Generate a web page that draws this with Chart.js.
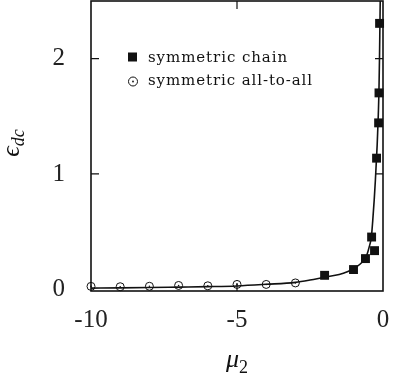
<!DOCTYPE html>
<html>
<head>
<meta charset="utf-8">
<script src="https://cdn.jsdelivr.net/npm/chart.js@4.4.1/dist/chart.umd.min.js"></script>
<style>
  html, body { margin: 0; padding: 0; background: #fff; }
  #wrap { width: 395px; height: 377px; }
</style>
</head>
<body>
<div id="wrap"><canvas id="chart" width="395" height="377"></canvas></div>
<script>
// tick labels
const xTicks = [-10, -5, 0];
const yTicks = [0, 1, 2];

// symmetric chain (filled squares)
const chainX = [-0.117, -0.137, -0.15, -0.22, -0.39, -0.29, -0.6, -1.01, -2.0];
const chainY = [2.306, 1.703, 1.443, 1.137, 0.453, 0.335, 0.266, 0.171, 0.121];

// symmetric all-to-all (dotted circles)
const allX = [-10, -9, -8, -7, -6, -5, -4, -3];
const allY = [0.025, 0.022, 0.026, 0.033, 0.03, 0.042, 0.042, 0.055];

// solid curve
const curveX = [-10, -9, -8, -7, -6, -5, -4, -3, -2.5, -2, -1.5, -1.2, -1, -0.8, -0.65, -0.55, -0.47, -0.4, -0.35, -0.3, -0.26, -0.23, -0.2, -0.18, -0.16, -0.14, -0.12, -0.105, -0.095, -0.085];
const curveY = [0.010, 0.012, 0.015, 0.019, 0.023, 0.029, 0.043, 0.06, 0.08, 0.105, 0.128, 0.155, 0.18, 0.215, 0.255, 0.3, 0.37, 0.45, 0.6, 0.78, 0.95, 1.1, 1.25, 1.38, 1.52, 1.7, 2.0, 2.3, 2.5, 2.8];

const legendLabels = ['symmetric chain', 'symmetric all-to-all'];

const pts = (xs, ys) => xs.map((x, i) => ({ x: x, y: ys[i] }));
const serif = '"Liberation Serif", "DejaVu Serif", serif';

// frame + inward ticks, drawn under the marks
const framePlugin = {
  id: 'frame',
  beforeDatasetsDraw(chart) {
    const { ctx, chartArea: a, scales } = chart;
    ctx.save();
    ctx.strokeStyle = '#111';
    ctx.lineWidth = 1.6;
    ctx.strokeRect(a.left, a.top, a.right - a.left, a.bottom - a.top);
    ctx.lineWidth = 1.2;
    const len = 8;
    yTicks.forEach(v => {
      if (v === 0) return;
      const y = scales.y.getPixelForValue(v);
      ctx.beginPath();
      ctx.moveTo(a.left, y); ctx.lineTo(a.left + len, y);
      ctx.moveTo(a.right, y); ctx.lineTo(a.right - len, y);
      ctx.stroke();
    });
    xTicks.forEach(v => {
      if (v === -10 || v === 0) return;
      const x = scales.x.getPixelForValue(v);
      ctx.beginPath();
      ctx.moveTo(x, a.bottom); ctx.lineTo(x, a.bottom - len);
      ctx.moveTo(x, a.top); ctx.lineTo(x, a.top + len);
      ctx.stroke();
    });
    ctx.restore();
  }
};

// legend text, stretched to the width it has in the picture
function wideText(ctx, txt, x, y, width) {
  ctx.letterSpacing = '0px';
  const w = ctx.measureText(txt).width;
  ctx.letterSpacing = ((width - w) / txt.length) + 'px';
  ctx.fillText(txt, x, y);
  ctx.letterSpacing = '0px';
}

// legend inside the box and axis titles with subscripts
const textPlugin = {
  id: 'texts',
  afterDraw(chart) {
    const { ctx } = chart;
    ctx.save();
    ctx.fillStyle = '#111';
    ctx.strokeStyle = '#111';

    // legend
    ctx.font = '15px "DejaVu Serif", serif';
    ctx.textBaseline = 'middle';
    ctx.textAlign = 'left';
    ctx.fillRect(128, 52.5, 9, 9);
    wideText(ctx, legendLabels[0], 148, 58, 140);
    ctx.lineWidth = 1;
    ctx.beginPath();
    ctx.arc(133, 81.5, 4.5, 0, Math.PI * 2);
    ctx.stroke();
    ctx.beginPath();
    ctx.arc(133, 81.5, 0.9, 0, Math.PI * 2);
    ctx.fill();
    wideText(ctx, legendLabels[1], 148, 81, 165);

    // x title: mu_2
    ctx.textBaseline = 'alphabetic';
    ctx.font = 'italic 26px ' + serif;
    const muW = ctx.measureText('μ').width;
    ctx.font = '18px ' + serif;
    const twoW = ctx.measureText('2').width;
    let x0 = 237 - (muW + twoW) / 2;
    ctx.font = 'italic 26px ' + serif;
    ctx.fillText('μ', x0, 367);
    ctx.font = '18px ' + serif;
    ctx.fillText('2', x0 + muW, 373);

    // y title: eps_dc (rotated)
    ctx.translate(19, 143);
    ctx.rotate(-Math.PI / 2);
    ctx.font = 'italic 26px ' + serif;
    const eW = ctx.measureText('ϵ').width;
    ctx.font = 'italic 18px ' + serif;
    const dcW = ctx.measureText('dc').width;
    x0 = -(eW + dcW) / 2;
    ctx.font = 'italic 26px ' + serif;
    ctx.fillText('ϵ', x0, 0);
    ctx.font = 'italic 18px ' + serif;
    ctx.fillText('dc', x0 + eW, 5);
    ctx.restore();
  }
};

const noPad = s => {
  s.paddingTop = 0; s.paddingBottom = 0; s.paddingLeft = 0; s.paddingRight = 0;
};

new Chart(document.getElementById('chart'), {
  type: 'scatter',
  data: {
    datasets: [
      {
        type: 'line',
        data: pts(curveX, curveY),
        borderColor: '#111',
        borderWidth: 1.6,
        pointRadius: 0,
        fill: false,
        cubicInterpolationMode: 'monotone'
      },
      {
        data: pts(chainX, chainY),
        pointStyle: 'rect',
        pointRadius: 6.3,
        backgroundColor: '#111',
        borderColor: '#111',
        borderWidth: 0,
        clip: false
      },
      {
        data: pts(allX, allY),
        pointStyle: 'circle',
        pointRadius: 4,
        backgroundColor: 'rgba(0,0,0,0)',
        borderColor: '#111',
        borderWidth: 1,
        clip: false
      },
      {
        data: pts(allX, allY),
        pointStyle: 'circle',
        pointRadius: 0.8,
        backgroundColor: '#111',
        borderWidth: 0,
        clip: false
      }
    ]
  },
  options: {
    responsive: false,
    animation: false,
    layout: { autoPadding: false, padding: { top: 1, right: 12, left: 0, bottom: 0 } },
    plugins: { legend: { display: false }, tooltip: { enabled: false } },
    scales: {
      x: {
        type: 'linear',
        min: -10,
        max: 0,
        grid: { display: false },
        border: { display: false },
        afterBuildTicks: s => { s.ticks = xTicks.map(v => ({ value: v })); },
        afterFit: s => { s.height = 86; noPad(s); },
        ticks: {
          color: '#222',
          padding: 6,
          font: { family: serif, size: 25 },
          callback: v => String(v)
        }
      },
      y: {
        type: 'linear',
        min: -0.015,
        max: 2.5,
        grid: { display: false },
        border: { display: false },
        afterBuildTicks: s => { s.ticks = yTicks.map(v => ({ value: v })); },
        afterFit: s => { s.width = 91; noPad(s); },
        ticks: {
          color: '#222',
          padding: 18,
          font: { family: serif, size: 25 },
          callback: v => String(v)
        }
      }
    }
  },
  plugins: [framePlugin, textPlugin]
});
</script>
</body>
</html>
